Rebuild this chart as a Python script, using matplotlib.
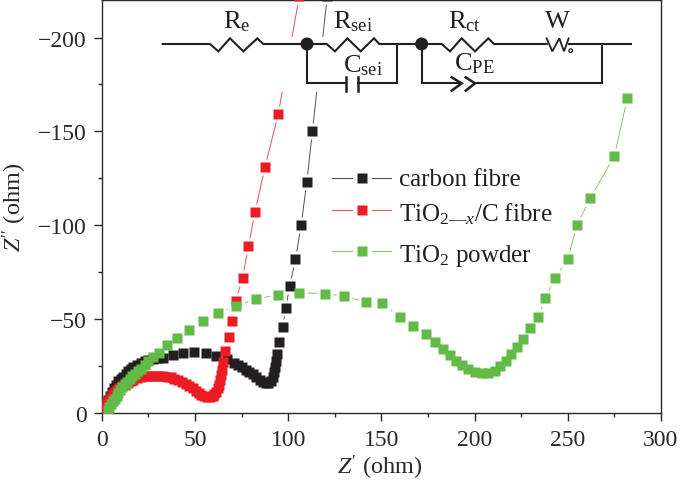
import numpy as np
import matplotlib
matplotlib.use('Agg')
import matplotlib.pyplot as plt
from matplotlib.patches import Rectangle, Circle
from matplotlib.ticker import MultipleLocator

plt.rcParams['font.family'] = 'Liberation Serif'
plt.rcParams['mathtext.fontset'] = 'custom'
plt.rcParams['mathtext.rm'] = 'Liberation Serif'
plt.rcParams['mathtext.it'] = 'Liberation Serif:italic'
plt.rcParams['mathtext.default'] = 'regular'

names = ['carbon fibre', 'TiO$_{2\u2014\\mathit{x}}$/C fibre', 'TiO$_{2}$ powder']
markerColors = ['#231f20', '#ed1c24', '#62bb46']
lineColors = ['#55504f', '#e8505a', '#86c56c']

carbonX = [2, 2.5, 3, 3.5, 4.5, 5.5, 6.5, 7.5, 8.9, 10.2, 11.6, 13, 14.3, 15.6, 17, 19, 21, 23, 25, 27.5, 30, 32.7, 38, 43.8, 49.7,
           55.8, 61.3, 67, 71, 73.2, 75.4, 77.3, 79.2, 81, 83, 85, 86.7, 88, 89.4, 90.6, 91.7, 92.4, 93, 93.6, 94.2, 95.3, 97, 98.7, 100.8, 103.9, 107, 110, 113, 121]
carbonY = [1, 3, 5, 7, 9, 11, 13, 15, 17, 18, 18.9, 20.5, 22.4, 23.3, 24.2, 25.5, 26.5, 27.5, 28, 28.6, 29, 29.3, 31, 31.8, 32.2,
           31.6, 30.4, 28.5, 26.5, 25.4, 24.2, 23, 21.8, 20.4, 18.9, 17.6, 16.5, 16, 15.8, 17, 18.9, 21.5, 24.2, 27.7, 31.3, 37.8, 45.6, 55.6, 67.3, 81.7, 100, 122.9, 150, 222]

redX = [2, 2.5, 3, 4, 5, 6, 7, 8, 9.5, 11, 12.5, 14, 15.5, 17, 19, 21, 23, 25, 27, 29, 31, 33, 35, 37, 39, 41, 43, 45, 47, 49,
        50.5, 52, 53.5, 55, 56.5, 58, 59.5, 60.5, 61.5, 62.3, 63, 63.6, 64.2, 64.7, 65.2, 66.1, 68.3, 69.7, 71.9, 75.6, 78.7, 82.2, 87.6, 94.7, 106]
redY = [1, 3, 5, 7, 8.5, 10, 11, 12, 13, 14, 15, 16, 17, 17.6, 18.3, 18.9, 19.3, 19.5, 19.6, 19.6, 19.5, 19.4, 19.2, 18.8, 18.2, 17.5, 16.6, 15.5, 14.3, 13,
        11.8, 10.5, 9.5, 8.8, 8.3, 8.3, 8.7, 9.8, 11.2, 13, 15, 17.5, 20, 23, 27, 33, 40.3, 49, 59.7, 72, 88.7, 107, 131, 159.2, 222]

powderX = [3.5, 4, 5, 6, 7, 8, 9, 10, 11, 12.5, 13.5, 15, 16.5, 17.8, 19.5, 21, 23.2, 25, 27.7, 31, 35, 40.5, 47, 54.5, 62.5, 72, 83, 94.5, 106, 120, 130, 142, 150.2, 160,
           166.8, 174, 178.8, 183, 186.9, 190, 193, 196.7, 200.3, 203.9, 207.4, 211, 213.7, 216.7, 219.6, 222.6, 226, 230, 234, 238, 243, 250, 255, 262, 275, 282]
powderY = [1.5, 3, 4.5, 6, 7.5, 9, 10.5, 12, 13.5, 15.3, 16.5, 18, 19.5, 20.6, 22.3, 23.5, 25.5, 27.5, 29.5, 32, 36, 40, 44, 48.7, 53.3, 57, 60.5, 63, 64, 63.5, 62, 59, 58.3, 51.1,
           46.4, 41.9, 37.5, 33.9, 30.7, 27.7, 25.4, 23.3, 21.8, 21, 21.2, 22.4, 24.7, 27.7, 31.3, 34.8, 39.3, 45, 51.1, 61.1, 71.6, 81.9, 100.2, 114.2, 136.9, 168]

xSeries = [carbonX, redX, powderX]
ySeries = [carbonY, redY, powderY]

fig = plt.figure(figsize=(6.8, 4.85), dpi=100)
ax = fig.add_axes([101.7/680, (485-413.7)/485, (661-101.7)/680, (413.7-1)/485])

# lines first, then white halos so the lines stop short of the squares
for x, y, c in zip(xSeries, ySeries, lineColors):
    ax.plot(x, -np.array(y), color=c, lw=0.7, zorder=1)
for x, y in zip(xSeries, ySeries):
    ax.plot(x, -np.array(y), ls='none', marker='s', ms=11.5, mfc='white', mec='none', zorder=2)
for x, y, c in zip(xSeries, ySeries, markerColors):
    ax.plot(x, -np.array(y), ls='none', marker='s', ms=7.2, mfc=c, mec='none', zorder=3)

ax.set_xlim(0, 300)
ax.set_ylim(0, -220)
ax.xaxis.set_major_locator(MultipleLocator(50))
ax.xaxis.set_minor_locator(MultipleLocator(25))
ax.yaxis.set_major_locator(MultipleLocator(50))
ax.yaxis.set_minor_locator(MultipleLocator(25))
inkCol = '#2b2829'
ax.tick_params(which='major', length=5.8, width=1, color=inkCol, labelsize=17, labelcolor=inkCol)
ax.tick_params(axis='x', which='major', pad=6)
ax.tick_params(axis='y', which='major', pad=5)
ax.tick_params(which='minor', length=2.9, width=1, color=inkCol)
for s in ax.spines.values():
    s.set_color(inkCol)
    s.set_linewidth(1)

fig.text(380/680, 1-468/485, r"$\mathit{Z'}$ (ohm)", fontsize=17.5, color=inkCol, ha='center', va='center')
fig.text(15/680, 1-207/485, r"$\mathit{Z''}$ (ohm)", fontsize=17.5, color=inkCol, ha='center', va='center', rotation=90)

# overlay in pixel coordinates for the circuit and the legend
ov = fig.add_axes([0, 0, 1, 1], facecolor='none')
ov.set_xlim(0, 680)
ov.set_ylim(485, 0)
ov.axis('off')
ov.add_patch(Rectangle((160, 37.5), 490, 55.5, fc='white', ec='none', zorder=1))


def wire(xs, ys, lw=1.5):
    ov.plot([150+v/3 for v in xs], [v/3 for v in ys], color='#231f20', lw=lw, solid_joinstyle='miter', zorder=2)


wire([38, 180, 205, 240, 280, 322, 340, 530, 555, 592, 632, 672, 688, 875, 900, 935, 975, 1015, 1032, 1190],
     [135, 135, 157, 118, 157, 118, 135, 135, 157, 118, 157, 118, 135, 135, 157, 118, 157, 118, 135, 135])
wire([1190, 1207, 1228, 1242, 1256], [118, 157, 118, 157, 118], lw=1.3)
wire([1256, 1442], [135, 135])
wire([471, 471, 587], [135, 253, 253])
wire([587, 587], [235, 275], lw=1.8)
wire([625, 625], [235, 275], lw=1.8)
wire([625, 740, 740], [253, 253, 135])
wire([815, 815, 930], [135, 253, 253])
wire([905, 935, 905], [235, 253, 275], lw=1.8)
wire([947, 975, 947], [235, 253, 275], lw=1.8)
wire([975, 1355, 1355], [253, 253, 135])
for cx in [471, 815]:
    ov.add_patch(Circle((150+cx/3, 45), 6.5, fc='#231f20', ec='none', zorder=3))
ov.add_patch(Circle((150+1262/3, 155/3), 1.8, fc='white', ec='#231f20', lw=0.9, zorder=3))

circuitLabels = ['R$_{e}$', 'R$_{sei}$', 'R$_{ct}$', 'W', 'C$_{sei}$', 'C$_{PE}$']
labelX = [222.7, 333, 447.7, 545, 343, 454]
labelY = [28, 28, 28, 28, 72, 70]
for t, lx, ly in zip(circuitLabels, labelX, labelY):
    ov.text(lx, ly, t, fontsize=19, color='#231f20', ha='left', va='baseline', zorder=4)

legY = [179, 211, 252]
legBase = [186, 221, 262]
for name, ly, lb, mc, lc in zip(names, legY, legBase, markerColors, lineColors):
    ov.plot([332, 352], [ly, ly], color=lc, lw=0.8)
    ov.plot([372, 391], [ly, ly], color=lc, lw=0.8)
    ov.plot([362], [ly], ls='none', marker='s', ms=6.8, mfc=mc, mec='none')
    ov.text(399, lb, name, fontsize=18, color='#231f20', ha='left', va='baseline')

fig.savefig('out.png', dpi=100)
